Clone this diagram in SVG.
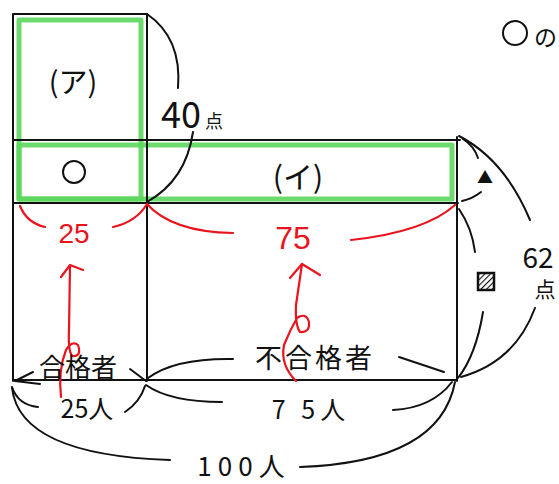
<svg xmlns="http://www.w3.org/2000/svg" width="559" height="484" viewBox="0 0 559 484">
<defs>
<style>
.ln{fill:none;stroke:#111;stroke-width:2;stroke-linecap:round;stroke-linejoin:round}
.gr{fill:none;stroke:#5cd65c;stroke-width:5;stroke-linejoin:round;opacity:0.9}
.rd{fill:none;stroke:#e8141e;stroke-width:2.2;stroke-linecap:round;stroke-linejoin:round}
.t{font-family:"Noto Sans CJK JP","Liberation Sans",sans-serif;fill:#111}
.tr{font-family:"Liberation Sans","Noto Sans CJK JP",sans-serif;fill:#e8141e}
</style>
<pattern id="hatch" width="4" height="4" patternUnits="userSpaceOnUse" patternTransform="rotate(45)">
<rect width="4" height="4" fill="#fff"/>
<line x1="0" y1="0" x2="0" y2="4" stroke="#111" stroke-width="2.2"/>
</pattern>
</defs>
<rect width="559" height="484" fill="#fff"/>

<g id="highlight">
<rect class="gr" x="19" y="20" width="122" height="179"/>
<rect class="gr" x="19" y="145" width="433" height="54"/>
</g>

<g id="grid">
<path class="ln" d="M13,14 H147 M13,14 V381 M147,14 V381 M13,140 H460 M13,203 H458 M457,137 V381 M13,380 H457"/>
</g>

<g id="cell-a">
<text class="t" x="73" y="93" font-size="29" text-anchor="middle">(ア)</text>
</g>
<g id="cell-circle">
<circle cx="74" cy="172" r="11" fill="none" stroke="#111" stroke-width="2"/>
</g>
<g id="cell-i">
<text class="t" x="298" y="188" font-size="30" text-anchor="middle">(イ)</text>
</g>

<g id="legend">
<circle cx="515" cy="33" r="12" fill="none" stroke="#111" stroke-width="2"/>
<text class="t" x="534" y="46" font-size="23">の</text>
</g>

<g id="connectors">
<path class="ln" d="M147,14 Q182,38 178,88"/>
<path class="ln" d="M193,132 Q186,180 147,202"/>
<path class="ln" d="M459,136 Q505,160 530,220"/>
<path class="ln" d="M535,308 Q515,362 461,377"/>
<path class="ln" d="M463,139 Q474,146 478,158"/>
<path class="ln" d="M481,192 Q472,199 462,201"/>
<path class="ln" d="M459,209 Q472,228 475,252"/>
<path class="ln" d="M483,312 Q476,355 458,378"/>
<path class="ln" d="M33,372 L15,381 L40,384"/>
<path class="ln" d="M130,369 L146,381"/>
<path class="ln" d="M148,378 Q175,358 233,359"/>
<path class="ln" d="M399,357 L444,372"/>
<path class="ln" d="M12,387 Q18,405 38,407"/>
<path class="ln" d="M145,386 Q140,402 125,412"/>
<path class="ln" d="M146,385 Q170,402 222,402"/>
<path class="ln" d="M393,410 Q432,408 452,382"/>
<path class="ln" d="M12,388 Q20,455 170,460"/>
<path class="ln" d="M455,382 Q440,462 300,467"/>
</g>

<g id="red-marks">
<path class="rd" d="M20,206 Q27,223 45,227"/>
<path class="rd" d="M113,227 Q136,222 147,204"/>
<path class="rd" d="M147,204 Q172,232 233,233"/>
<path class="rd" d="M351,240 Q425,232 455,205"/>
<text class="tr" x="74" y="243" font-size="28" text-anchor="middle">25</text>
<text class="tr" x="293" y="249" font-size="32" text-anchor="middle">75</text>
<path class="rd" d="M61,397 Q58,370 66,350 Q72,340 78,345 Q82,357 72,356 Q68,350 69,330 L70,266"/>
<path class="rd" d="M61,277 L70,265 L83,270"/>
<path class="rd" d="M296,381 Q280,365 284,345 Q290,330 297,318 Q306,312 309,322 Q310,333 300,332 Q295,325 296,305 L302,264"/>
<path class="rd" d="M290,278 L302,264 L320,275"/>
</g>

<g id="labels">
<text class="t" x="161" y="128" font-size="36">40</text>
<text class="t" x="205" y="128" font-size="18">点</text>
<text class="t" x="538" y="268" font-size="28" text-anchor="middle">62</text>
<text class="t" x="545" y="297" font-size="21" text-anchor="middle">点</text>
<text class="t" x="485" y="183" font-size="16" text-anchor="middle">▲</text>
<rect x="478" y="273" width="16" height="17" fill="url(#hatch)" stroke="#111" stroke-width="2.5"/>
<text class="t" x="78" y="377" font-size="26" text-anchor="middle">合格者</text>
<text class="t" x="315" y="368" font-size="27" text-anchor="middle" letter-spacing="3">不合格者</text>
<text class="t" x="87" y="418" font-size="25" text-anchor="middle">25人</text>
<text class="t" x="311" y="419" font-size="25" text-anchor="middle" letter-spacing="5">7 5人</text>
<text class="t" x="244" y="476" font-size="26" text-anchor="middle" letter-spacing="6">100人</text>
</g>
</svg>
